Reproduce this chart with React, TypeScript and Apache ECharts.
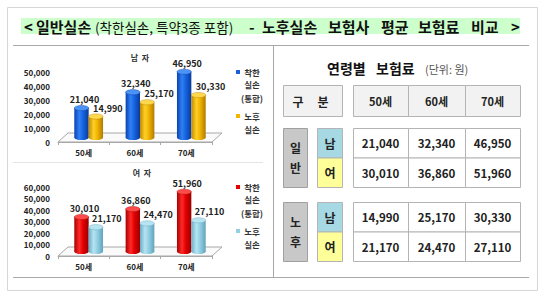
import React, { useEffect, useRef } from "react";
import * as echarts from "echarts";

const ages = ["50세", "60세", "70세"];
const maleGeneral = [21040, 32340, 46950];
const maleSenior = [14990, 25170, 30330];
const femaleGeneral = [30010, 36860, 51960];
const femaleSenior = [21170, 24470, 27110];
const maleTicks = [0, 10000, 20000, 30000, 40000, 50000];
const femaleTicks = [0, 10000, 20000, 30000, 40000, 50000, 60000];
const chartTitles = ["남  자", "여  자"];
const legendGeneral = ["착한", "실손", "(통합)"];
const legendSenior = ["노후", "실손"];
const groupLabels = ["일반", "노후"];
const sexLabels = ["남", "여"];
const headerLabel = ["구", "분"];
const tableTitleWords = ["연령별", "보험료"];
const tableUnit = "(단위: 원)";

const FONT = '"Noto Sans CJK KR", "Noto Sans", sans-serif';
const fmt = (v: number) => String(v).replace(/\B(?=(\d{3})+(?!\d))/g, ",");

const DX = 5;
const DY = -4.5;

const palettes: any = {
  blue: { stops: ["#0a42ad", "#2f80f5", "#1664e2", "#0a3a9a"], top: "#4b93f7", edge: "#0a3a9a" },
  yellow: { stops: ["#c08a00", "#ffd02a", "#f2b500", "#b07c00"], top: "#ffd84d", edge: "#b07c00" },
  red: { stops: ["#a80000", "#ff2a2a", "#e60000", "#980000"], top: "#ff4a4a", edge: "#980000" },
  sky: { stops: ["#6aaec6", "#b6e4f2", "#92cfe3", "#62a4bc"], top: "#b8e4f1", edge: "#62a4bc" },
};

function floorSeries(gi: number) {
  return {
    type: "custom",
    xAxisIndex: gi,
    yAxisIndex: gi,
    z: 1,
    silent: true,
    data: [[0, 0]],
    renderItem: (_p: any, api: any) => {
      const bw = api.size([1, 0])[0];
      const p0 = api.coord([0, 0]);
      const p2 = api.coord([ages.length - 1, 0]);
      const l = p0[0] - bw / 2;
      const r = p2[0] + bw / 2;
      const y = p0[1];
      return {
        type: "polygon",
        shape: { points: [[l, y], [r, y], [r + 10, y - 9], [l + 10, y - 9]] },
        style: { fill: "#fafafa", stroke: "#a8a8a8", lineWidth: 1 },
      };
    },
  };
}

function cylSeries(name: string, values: number[], gi: number, slot: number, palKey: string, labelDx: number) {
  const pal = palettes[palKey];
  return {
    type: "custom",
    name,
    xAxisIndex: gi,
    yAxisIndex: gi,
    z: 2,
    data: values.map((v, i) => [i, v]),
    renderItem: (_p: any, api: any) => {
      const i = api.value(0);
      const v = api.value(1);
      const top = api.coord([i, v]);
      const base = api.coord([i, 0]);
      const bw = api.size([1, 0])[0];
      const w = bw * 0.28;
      const rx = w / 2;
      const ry = 2.6;
      const cx = top[0] + DX + (slot * w) / 2;
      const yT = top[1] + DY;
      const yB = base[1] + DY;
      const grad = new echarts.graphic.LinearGradient(0, 0, 1, 0, [
        { offset: 0, color: pal.stops[0] },
        { offset: 0.35, color: pal.stops[1] },
        { offset: 0.6, color: pal.stops[2] },
        { offset: 1, color: pal.stops[3] },
      ]);
      return {
        type: "group",
        children: [
          { type: "ellipse", shape: { cx, cy: yB, rx, ry }, style: { fill: grad } },
          { type: "rect", shape: { x: cx - rx, y: yT, width: w, height: yB - yT }, style: { fill: grad } },
          { type: "ellipse", shape: { cx, cy: yT, rx, ry }, style: { fill: pal.top, stroke: pal.edge, lineWidth: 0.4 } },
          {
            type: "text",
            x: cx + labelDx,
            y: yT - 8.5,
            style: {
              text: fmt(v),
              fill: "#222",
              font: `bold 9px ${FONT}`,
              textAlign: "center",
              textVerticalAlign: "middle",
              align: "center",
              verticalAlign: "middle",
            },
          },
        ],
      };
    },
  };
}

function buildGraphic() {
  const g: any[] = [];
  const rect = (x: number, y: number, w: number, h: number, fill: string, stroke?: string) =>
    g.push({ type: "rect", silent: true, shape: { x, y, width: w, height: h }, style: { fill, stroke: stroke || null, lineWidth: 1 } });
  const line = (x1: number, y1: number, x2: number, y2: number, stroke: string) =>
    g.push({ type: "line", silent: true, shape: { x1, y1, x2, y2 }, style: { stroke, lineWidth: 1 } });
  const text = (x: number, y: number, t: string, size: number, weight = "bold", align = "center", color = "#222") =>
    g.push({
      type: "text",
      silent: true,
      x,
      y,
      style: {
        text: t,
        fill: color,
        font: `${weight} ${size}px ${FONT}`,
        textAlign: align,
        textVerticalAlign: "middle",
        align,
        verticalAlign: "middle",
      },
    });

  // outer border
  rect(7.5, 7.5, 530, 283, "none", "#d6d6d6");
  // title band
  rect(21, 18, 499, 16, "#ccffcc");
  text(24, 26, "<", 15, "bold", "left", "#111");
  text(36, 26, "일반실손", 15, "bold", "left", "#111");
  text(95, 27, "(착한실손, 특약3종 포함)", 13.5, "normal", "left", "#111");
  text(249, 26, "-", 15, "bold", "left", "#111");
  text(262, 26, "노후실손", 15, "bold", "left", "#111");
  text(328, 26, "보험사", 15, "bold", "left", "#111");
  text(381, 26, "평균", 15, "bold", "left", "#111");
  text(418, 26, "보험료", 15, "bold", "left", "#111");
  text(471, 26, "비교", 15, "bold", "left", "#111");
  text(511, 26, ">", 15, "bold", "left", "#111");

  // frame lines
  line(13, 45.5, 529, 45.5, "#a8a8a8");
  line(13, 277.5, 529, 277.5, "#a8a8a8");
  line(273.5, 45.5, 273.5, 277.5, "#a8a8a8");
  line(13, 162.5, 263, 162.5, "#e4e4e4");

  // chart titles
  text(140, 57, chartTitles[0], 8, "bold", "center", "#333");
  text(142, 172, chartTitles[1], 8, "bold", "center", "#333");

  // legends
  const legend = (baseY: number, c1: string, c2: string) => {
    rect(236, baseY - 2, 4, 4, c1);
    legendGeneral.forEach((t, k) => text(252, baseY + [0, 12, 25.5][k], t, 8.5, "bold", "center", "#333"));
    rect(236, baseY + 42, 4, 4, c2);
    legendSenior.forEach((t, k) => text(252, baseY + [44, 57][k], t, 8.5, "bold", "center", "#333"));
  };
  legend(72, "#1a5fe0", "#f2b500");
  legend(187, "#e60000", "#92cfe3");

  // table title
  text(327, 68, tableTitleWords[0], 14, "bold", "left", "#111");
  text(376, 68, tableTitleWords[1], 14, "bold", "left", "#111");
  text(425, 69, tableUnit, 11, "normal", "left", "#555");

  const border = "#b4b4b4";
  const colX = [353, 408, 465, 520];
  // header
  rect(283.5, 85.5, 59, 31, "#f2f2f2", border);
  text(298, 101, headerLabel[0], 12);
  text(323, 101, headerLabel[1], 12);
  ages.forEach((a, k) => {
    rect(colX[k] + 0.5, 85.5, colX[k + 1] - colX[k], 31, "#f2f2f2", border);
    text((colX[k] + colX[k + 1]) / 2, 101, a, 11);
  });

  const groups = [
    [maleGeneral, femaleGeneral],
    [maleSenior, femaleSenior],
  ];
  const groupTop = [128, 202];
  const rowH = 29.5;
  const sexFill = ["#a6d9e4", "#ffff99"];
  groups.forEach((rows, gi) => {
    const top = groupTop[gi];
    rect(283.5, top + 0.5, 24, rowH * 2, "#c8c8c8", "#a0a0a0");
    const chars = groupLabels[gi].split("");
    text(295.5, top + rowH - 10, chars[0], 12);
    text(295.5, top + rowH + 10, chars[1], 12);
    rows.forEach((vals, ri) => {
      const y = top + ri * rowH;
      rect(317.5, y + 0.5, 25, rowH, sexFill[ri], border);
      text(330, y + rowH / 2 + 0.5, sexLabels[ri], 12);
      vals.forEach((v, k) => {
        rect(colX[k] + 0.5, y + 0.5, colX[k + 1] - colX[k], rowH, "#ffffff", border);
        text((colX[k] + colX[k + 1]) / 2, y + rowH / 2 + 0.5, fmt(v), 11.5);
      });
    });
  });
  return g;
}

function xAxis(gi: number) {
  return {
    type: "category",
    gridIndex: gi,
    data: ages,
    axisLine: { show: true, lineStyle: { color: "#a8a8a8", width: 1 } },
    axisTick: { show: true, length: 3, lineStyle: { color: "#a8a8a8" } },
    axisLabel: { fontSize: 8, fontWeight: "bold", color: "#222", margin: 6, fontFamily: FONT },
    splitLine: { show: false },
  };
}

function yAxis(gi: number, ticks: number[]) {
  return {
    type: "value",
    gridIndex: gi,
    min: ticks[0],
    max: ticks[ticks.length - 1],
    interval: ticks[1] - ticks[0],
    axisLine: { show: false },
    axisTick: { show: false },
    splitLine: { show: false },
    axisLabel: { fontSize: 8, fontWeight: "bold", color: "#222", margin: 8, fontFamily: FONT, formatter: (v: number) => fmt(v) },
  };
}

export default function App() {
  const ref = useRef<HTMLDivElement>(null);
  useEffect(() => {
    if (!ref.current) return;
    const chart = echarts.init(ref.current, null, { renderer: "svg" });
    chart.setOption({
      animation: false,
      backgroundColor: "#ffffff",
      textStyle: { fontFamily: FONT },
      grid: [
        { left: 58, top: 72, width: 154, height: 70 },
        { left: 58, top: 187, width: 154, height: 69 },
      ],
      xAxis: [xAxis(0), xAxis(1)],
      yAxis: [yAxis(0, maleTicks), yAxis(1, femaleTicks)],
      series: [
        floorSeries(0),
        floorSeries(1),
        cylSeries("착한실손(통합) 남", maleGeneral, 0, -1, "blue", 3),
        cylSeries("노후실손 남", maleSenior, 0, 1, "yellow", 12),
        cylSeries("착한실손(통합) 여", femaleGeneral, 1, -1, "red", 3),
        cylSeries("노후실손 여", femaleSenior, 1, 1, "sky", 11),
      ],
      graphic: buildGraphic(),
    });
    return () => chart.dispose();
  }, []);
  return (
    <div
      ref={ref}
      style={{ position: "fixed", left: 0, top: 0, width: 540, height: 297, background: "#fff" }}
    />
  );
}
